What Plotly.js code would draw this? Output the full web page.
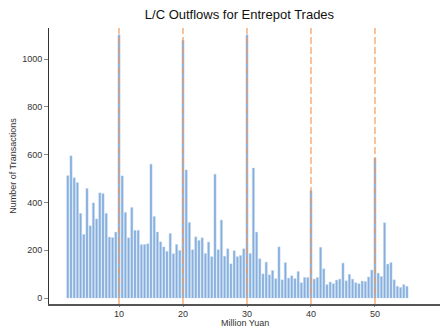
<!DOCTYPE html>
<html>
<head>
<meta charset="utf-8">
<script src="https://cdn.plot.ly/plotly-3.0.1.min.js"></script>
<style>
  html, body { margin: 0; padding: 0; background: #fff; }
  #chart { width: 441px; height: 329px; }
</style>
</head>
<body>
<div id="chart"></div>
<script>
// L/C amount bins (million yuan), half-million steps
const amounts = [
  2, 2.5, 3, 3.5, 4, 4.5, 5, 5.5, 6, 6.5, 7, 7.5, 8, 8.5, 9, 9.5,
  10, 10.5, 11, 11.5, 12, 12.5, 13, 13.5, 14, 14.5, 15, 15.5, 16, 16.5, 17, 17.5, 18, 18.5, 19, 19.5,
  20, 20.5, 21, 21.5, 22, 22.5, 23, 23.5, 24, 24.5, 25, 25.5, 26, 26.5, 27, 27.5, 28, 28.5, 29, 29.5,
  30, 30.5, 31, 31.5, 32, 32.5, 33, 33.5, 34, 34.5, 35, 35.5, 36, 36.5, 37, 37.5, 38, 38.5, 39, 39.5,
  40, 40.5, 41, 41.5, 42, 42.5, 43, 43.5, 44, 44.5, 45, 45.5, 46, 46.5, 47, 47.5, 48, 48.5, 49, 49.5,
  50, 50.5, 51, 51.5, 52, 52.5, 53, 53.5, 54, 54.5, 55
];

// Number of transactions per bin
const transactions = [
  512, 595, 503, 483, 354, 266, 458, 302, 398, 331, 440, 437, 354, 255, 253, 276,
  1102, 511, 358, 252, 379, 283, 283, 223, 224, 227, 560, 341, 276, 235, 214, 195, 270, 185, 224, 199,
  1079, 536, 316, 202, 256, 241, 252, 186, 234, 173, 518, 202, 326, 175, 206, 143, 198, 173, 178, 206,
  1102, 186, 544, 276, 164, 101, 150, 97, 115, 81, 214, 76, 148, 83, 93, 81, 111, 64, 86, 86,
  450, 79, 86, 212, 122, 56, 67, 60, 75, 79, 146, 72, 99, 79, 64, 60, 71, 69, 88, 117,
  586, 104, 90, 315, 142, 148, 76, 49, 44, 56, 49
];

// Round-number thresholds marked with dashed reference lines
const thresholds = [10, 20, 30, 40, 50];

const xTicks = [10, 20, 30, 40, 50];
const yTicks = [0, 200, 400, 600, 800, 1000];

const font = "'Liberation Sans', Arial, Helvetica, sans-serif";

const trace = {
  type: 'bar',
  x: amounts,
  y: transactions,
  width: 0.34,
  marker: {
    color: 'rgba(108,156,214,0.82)',
    line: { color: 'rgba(185,210,238,0.9)', width: 0.5 }
  },
  hoverinfo: 'x+y'
};

const shapes = thresholds.map(v => ({
  type: 'line',
  xref: 'x', yref: 'paper',
  x0: v, x1: v, y0: 0, y1: 1,
  layer: 'above',
  opacity: 0.75,
  line: { color: 'rgb(245,150,80)', width: 1.5, dash: '7px,3px' }
}));

const layout = {
  width: 441,
  height: 329,
  margin: { l: 49, r: 1, t: 28, b: 25 },
  paper_bgcolor: '#fff',
  plot_bgcolor: '#fff',
  showlegend: false,
  bargap: 0,
  font: { family: font, size: 9, color: '#333' },
  title: {
    text: 'L/C Outflows for Entrepot Trades',
    font: { family: font, size: 13, color: '#111' },
    x: 0.543, xanchor: 'center',
    y: 0.955, yanchor: 'middle'
  },
  xaxis: {
    range: [-0.94, 60.16],
    tickvals: xTicks,
    ticktext: xTicks.map(String),
    ticks: 'outside', ticklen: 1, tickcolor: '#888', tickwidth: 1,
    showgrid: false, zeroline: false,
    showline: true, linecolor: '#555', linewidth: 1.5,
    tickfont: { family: font, size: 9, color: '#333' }
  },
  yaxis: {
    range: [-25, 1130],
    tickvals: yTicks,
    ticktext: yTicks.map(String),
    ticks: 'outside', ticklen: 4, tickcolor: '#888', tickwidth: 1,
    showgrid: false, zeroline: false,
    showline: true, linecolor: '#333', linewidth: 1,
    tickfont: { family: font, size: 9, color: '#333' },
    title: { text: 'Number of Transactions', font: { family: font, size: 9, color: '#333' }, standoff: 4 }
  },
  annotations: [{
    text: 'Million Yuan',
    xref: 'paper', yref: 'paper',
    x: 0.5, y: -0.069,
    xanchor: 'center', yanchor: 'middle',
    showarrow: false,
    font: { family: font, size: 9, color: '#333' }
  }],
  shapes: shapes
};

Plotly.newPlot('chart', [trace], layout, { displayModeBar: false, staticPlot: true });
</script>
</body>
</html>
